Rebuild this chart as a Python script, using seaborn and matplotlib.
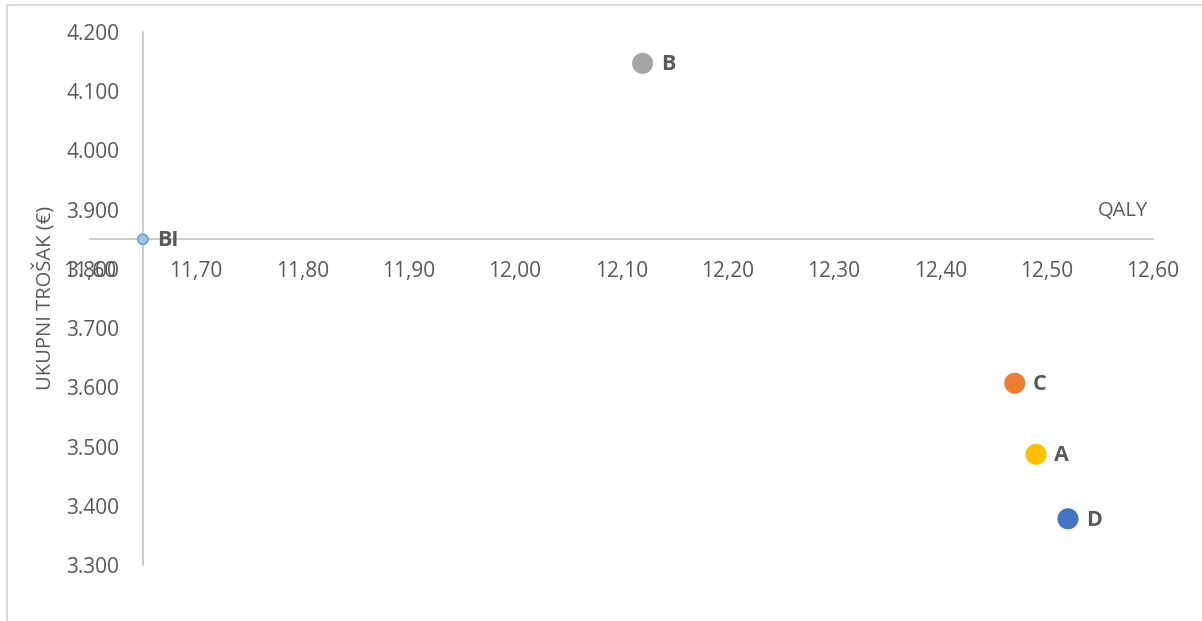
import numpy as np
import pandas as pd
import seaborn as sns
import matplotlib.pyplot as plt
from matplotlib.patches import Rectangle
from matplotlib.ticker import FuncFormatter

# strategies: QALY vs total cost
labels = ["BI", "B", "C", "A", "D"]
qaly = [11.65, 12.12, 12.47, 12.49, 12.52]
cost = [3850, 4147, 3607, 3487, 3378]
colors = ["#9DC3E6", "#A5A5A5", "#ED7D31", "#FFC000", "#4472C4"]
sizes = [55, 230, 230, 230, 230]

x_ticks = np.round(np.arange(11.60, 12.601, 0.10), 2)
y_ticks = list(range(3300, 4201, 100))

sns.set_style("white")
plt.rcParams["font.family"] = ["Open Sans", "DejaVu Sans"]
text_col = "#595959"
axis_col = "#BFBFBF"

df = pd.DataFrame({"label": labels, "QALY": qaly, "cost": cost})

fig = plt.figure(figsize=(12.02, 6.21), dpi=100)
ax = fig.add_axes([89.7 / 1202, 1 - 565 / 621, (1153 - 89.7) / 1202, (565 - 32) / 621])

sns.scatterplot(data=df, x="QALY", y="cost", hue="label", palette=colors,
                size="label", sizes=dict(zip(labels, sizes)),
                edgecolor=["#5B9BD5", "none", "none", "none", "none"],
                linewidth=1.0, legend=False, ax=ax, zorder=3)

for lab, xv, yv in zip(labels, qaly, cost):
    off = 10 if lab == "BI" else 13
    ax.annotate(lab, (xv, yv), xytext=(off, -1), textcoords="offset points",
                ha="left", va="center", fontsize=15.5, fontweight="bold",
                color=text_col, zorder=4)

ax.set_xlim(11.60, 12.60)
ax.set_ylim(3300, 4200)
ax.set_xticks(x_ticks)
ax.set_yticks(y_ticks)
ax.xaxis.set_major_formatter(FuncFormatter(lambda v, p: f"{v:.2f}".replace(".", ",")))
ax.yaxis.set_major_formatter(FuncFormatter(lambda v, p: f"{int(round(v)):,}".replace(",", ".")))

ax.spines["left"].set_position(("data", 11.65))
ax.spines["bottom"].set_position(("data", 3850))
ax.spines["top"].set_visible(False)
ax.spines["right"].set_visible(False)
for s in ["left", "bottom"]:
    ax.spines[s].set_color(axis_col)
    ax.spines[s].set_linewidth(1.1)

ax.tick_params(axis="x", length=0, pad=16, labelsize=15, labelcolor=text_col)
ax.tick_params(axis="y", length=0, pad=17, labelsize=15, labelcolor=text_col)
ax.set_xlabel("")
ax.set_ylabel("")
ax.patch.set_alpha(0)

fig.text(45 / 1202, 1 - 298 / 621, "UKUPNI TROŠAK (€)", rotation=90,
         ha="center", va="center", fontsize=14.5, color=text_col)
fig.text(1148 / 1202, 1 - 211 / 621, "QALY", ha="right", va="center",
         fontsize=14.5, color=text_col)

# chart border
fig.patches.append(Rectangle((7 / 1202, -0.1), 1.2, 1.1 - 5 / 621,
                             transform=fig.transFigure, fill=False,
                             edgecolor="#D9D9D9", linewidth=1.5))

fig.savefig("out.png", dpi=100)
